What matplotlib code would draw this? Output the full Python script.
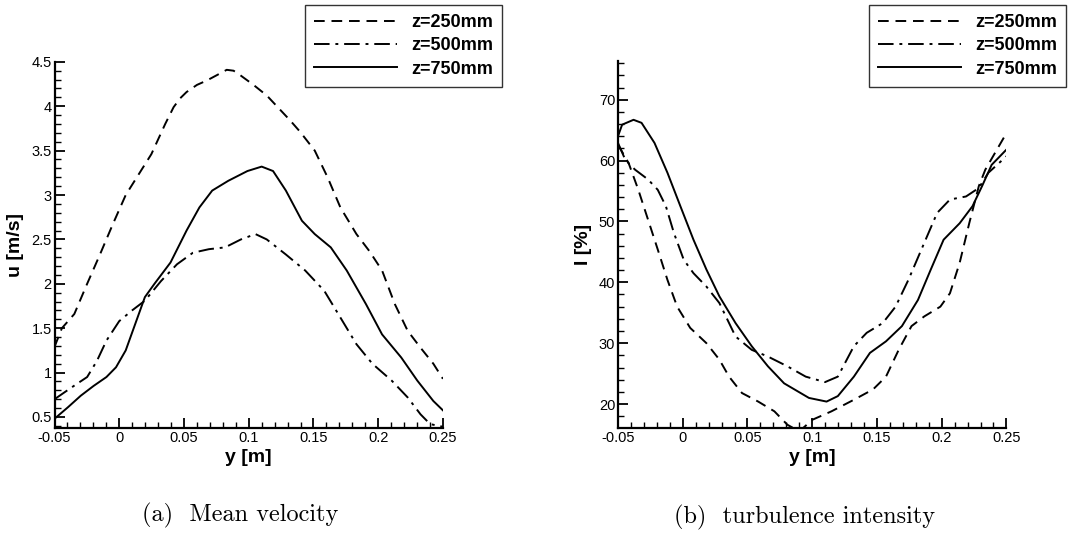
import matplotlib
matplotlib.use("Agg")
import matplotlib.pyplot as plt
from matplotlib.ticker import MultipleLocator

# (a) mean velocity u [m/s] against y [m]
u250_y = [-0.05, -0.0443, -0.0347, -0.0248, -0.0149, -0.005, 0.005, 0.0149, 0.0248, 0.0355,
          0.042, 0.0471, 0.052, 0.06, 0.0677, 0.0754, 0.083, 0.0883, 0.0934, 0.1037,
          0.114, 0.132, 0.1398, 0.151, 0.1609, 0.1708, 0.1832, 0.1931, 0.203, 0.2129,
          0.2228, 0.2327, 0.2426, 0.25]
u250 = [1.29, 1.50, 1.66, 2.00, 2.33, 2.67, 3.00, 3.23, 3.46, 3.80,
        3.99, 4.09, 4.16, 4.24, 4.29, 4.35, 4.41, 4.40, 4.35, 4.24,
        4.12, 3.84, 3.71, 3.50, 3.20, 2.86, 2.56, 2.37, 2.15, 1.77,
        1.47, 1.28, 1.10, 0.93]

u500_y = [-0.05, -0.0371, -0.0248, -0.0173, -0.0099, 0.0, 0.0099, 0.0198, 0.0322, 0.0446,
          0.0569, 0.0693, 0.0817, 0.094, 0.1052, 0.1139, 0.1287, 0.1436, 0.1584, 0.1708,
          0.1832, 0.1955, 0.2104, 0.2228, 0.2327, 0.2401, 0.25]
u500 = [0.70, 0.83, 0.95, 1.13, 1.36, 1.58, 1.70, 1.81, 2.03, 2.22,
        2.35, 2.39, 2.41, 2.50, 2.56, 2.50, 2.33, 2.15, 1.92, 1.62,
        1.32, 1.10, 0.91, 0.72, 0.53, 0.42, 0.39]

u750_y = [-0.05, -0.0396, -0.0297, -0.0198, -0.0099, -0.0025, 0.005, 0.0124, 0.0198, 0.0272,
          0.0396, 0.052, 0.0619, 0.0718, 0.0842, 0.099, 0.110, 0.1188, 0.1287, 0.1411,
          0.151, 0.1634, 0.1757, 0.1906, 0.203, 0.2178, 0.2302, 0.2426, 0.25]
u750 = [0.48, 0.61, 0.74, 0.85, 0.95, 1.06, 1.25, 1.55, 1.85, 2.00,
        2.24, 2.60, 2.86, 3.05, 3.16, 3.27, 3.32, 3.27, 3.05, 2.71,
        2.56, 2.41, 2.15, 1.77, 1.43, 1.17, 0.91, 0.68, 0.575]

# (b) turbulence intensity I [%] against y [m]
i250_y = [-0.05, -0.0418, -0.0343, -0.0268, -0.0193, -0.0118, -0.0043, 0.0058, 0.0183, 0.0283,
          0.0358, 0.0458, 0.0583, 0.0708, 0.0808, 0.0901, 0.1, 0.1149, 0.1322, 0.147,
          0.157, 0.1668, 0.1767, 0.1866, 0.199, 0.2064, 0.2139, 0.2213, 0.2287, 0.2337, 0.25]
i250 = [62.6, 59.6, 55.2, 50.3, 45.4, 40.4, 36.0, 32.5, 30.0, 27.3,
        24.5, 21.8, 20.4, 18.8, 16.6, 15.5, 17.4, 18.8, 20.7, 22.4,
        24.5, 28.9, 32.8, 34.4, 36.0, 38.2, 43.2, 49.7, 55.8, 58.5, 64.5]

i500_y = [-0.05, -0.0443, -0.0368, -0.0268, -0.0193, -0.013, -0.0068, 0.0008, 0.0083, 0.0183,
          0.0283, 0.0408, 0.0533, 0.0658, 0.0808, 0.095, 0.1099, 0.1198, 0.1322, 0.1421,
          0.1545, 0.1644, 0.1743, 0.1866, 0.1965, 0.2064, 0.2188, 0.2287, 0.2361, 0.25]
i500 = [62.9, 60.1, 58.5, 56.9, 55.2, 52.5, 48.1, 43.7, 41.5, 39.3,
        36.6, 31.1, 28.9, 27.8, 26.2, 24.5, 23.6, 24.5, 29.5, 31.7,
        33.3, 36.0, 40.4, 46.5, 51.4, 53.6, 54.1, 55.5, 58.0, 60.7]

i750_y = [-0.05, -0.0468, -0.038, -0.0318, -0.0218, -0.0118, -0.0018, 0.0083, 0.0183, 0.0283,
          0.0408, 0.0533, 0.0658, 0.0783, 0.0975, 0.1111, 0.1198, 0.1322, 0.1446, 0.157,
          0.1693, 0.1817, 0.1916, 0.2015, 0.2139, 0.2238, 0.2312, 0.2386, 0.25]
i750 = [64.0, 65.9, 66.7, 66.2, 62.9, 58.0, 52.5, 47.0, 42.1, 37.7,
        33.3, 29.5, 26.2, 23.4, 21.0, 20.4, 21.3, 24.5, 28.4, 30.3,
        32.8, 37.1, 42.1, 47.0, 49.7, 52.5, 55.8, 59.3, 61.8]

labels = ["z=250mm", "z=500mm", "z=750mm"]

plt.rcParams['font.family'] = ['Liberation Sans', 'DejaVu Sans']

fig = plt.figure(figsize=(10.88, 5.33), dpi=100)
ax1 = fig.add_axes([0.0501, 0.197, 0.357, 0.687])
ax2 = fig.add_axes([0.568, 0.197, 0.357, 0.689])

styles = [dict(ls=(0, (5.5, 3.5))), dict(ls=(0, (8, 3, 1.5, 3))), dict(ls='-')]


def style_axes(ax, ylabel, ylim, major, minor):
    ax.set_xlim(-0.05, 0.25)
    ax.set_ylim(*ylim)
    for s in ('top', 'right'):
        ax.spines[s].set_visible(False)
    for s in ('left', 'bottom'):
        ax.spines[s].set_linewidth(1.6)
    ax.xaxis.set_major_locator(MultipleLocator(0.05))
    ax.xaxis.set_minor_locator(MultipleLocator(0.01))
    ax.yaxis.set_major_locator(MultipleLocator(major))
    ax.yaxis.set_minor_locator(MultipleLocator(minor))
    ax.xaxis.set_major_formatter(lambda v, pos: f"{v:g}")
    ax.yaxis.set_major_formatter(lambda v, pos: f"{v:g}")
    ax.tick_params(which='major', direction='in', length=7, width=1.3, labelsize=10.5, pad=2)
    ax.tick_params(which='minor', direction='in', length=4, width=1.0)
    ax.set_xlabel("y [m]", fontsize=14, fontweight='bold', labelpad=3)
    ax.set_ylabel(ylabel, fontsize=14, fontweight='bold', labelpad=5)


for xs, ys, st, lab in zip([u250_y, u500_y, u750_y], [u250, u500, u750], styles, labels):
    ax1.plot(xs, ys, color='black', lw=1.4, label=lab, **st)
style_axes(ax1, "u [m/s]", (0.376, 4.5), 0.5, 0.1)

for xs, ys, st, lab in zip([i250_y, i500_y, i750_y], [i250, i500, i750], styles, labels):
    ax2.plot(xs, ys, color='black', lw=1.4, label=lab, **st)
style_axes(ax2, "I [%]", (16.06, 76.4), 10, 2)

for ax, right in ((ax1, 502 / 1088), (ax2, 1066 / 1088)):
    leg = ax.legend(loc='upper right', bbox_to_anchor=(right, 1 - 5 / 533),
                    bbox_transform=fig.transFigure, frameon=True, fancybox=False,
                    prop=dict(weight='bold', size=13), handlelength=4.6,
                    handletextpad=0.75, labelspacing=0.35, borderpad=0.5,
                    borderaxespad=0)
    leg.get_frame().set_edgecolor('black')
    leg.get_frame().set_linewidth(1.0)

cap = dict(family=['cmr10', 'DejaVu Serif'], fontsize=17.5, ha='center', va='center')
fig.text(240 / 1088, 1 - 515 / 533, "(a)  Mean velocity", **cap)
fig.text(805 / 1088, 1 - 517 / 533, "(b)  turbulence intensity", **cap)

fig.savefig("out.png", dpi=100)
